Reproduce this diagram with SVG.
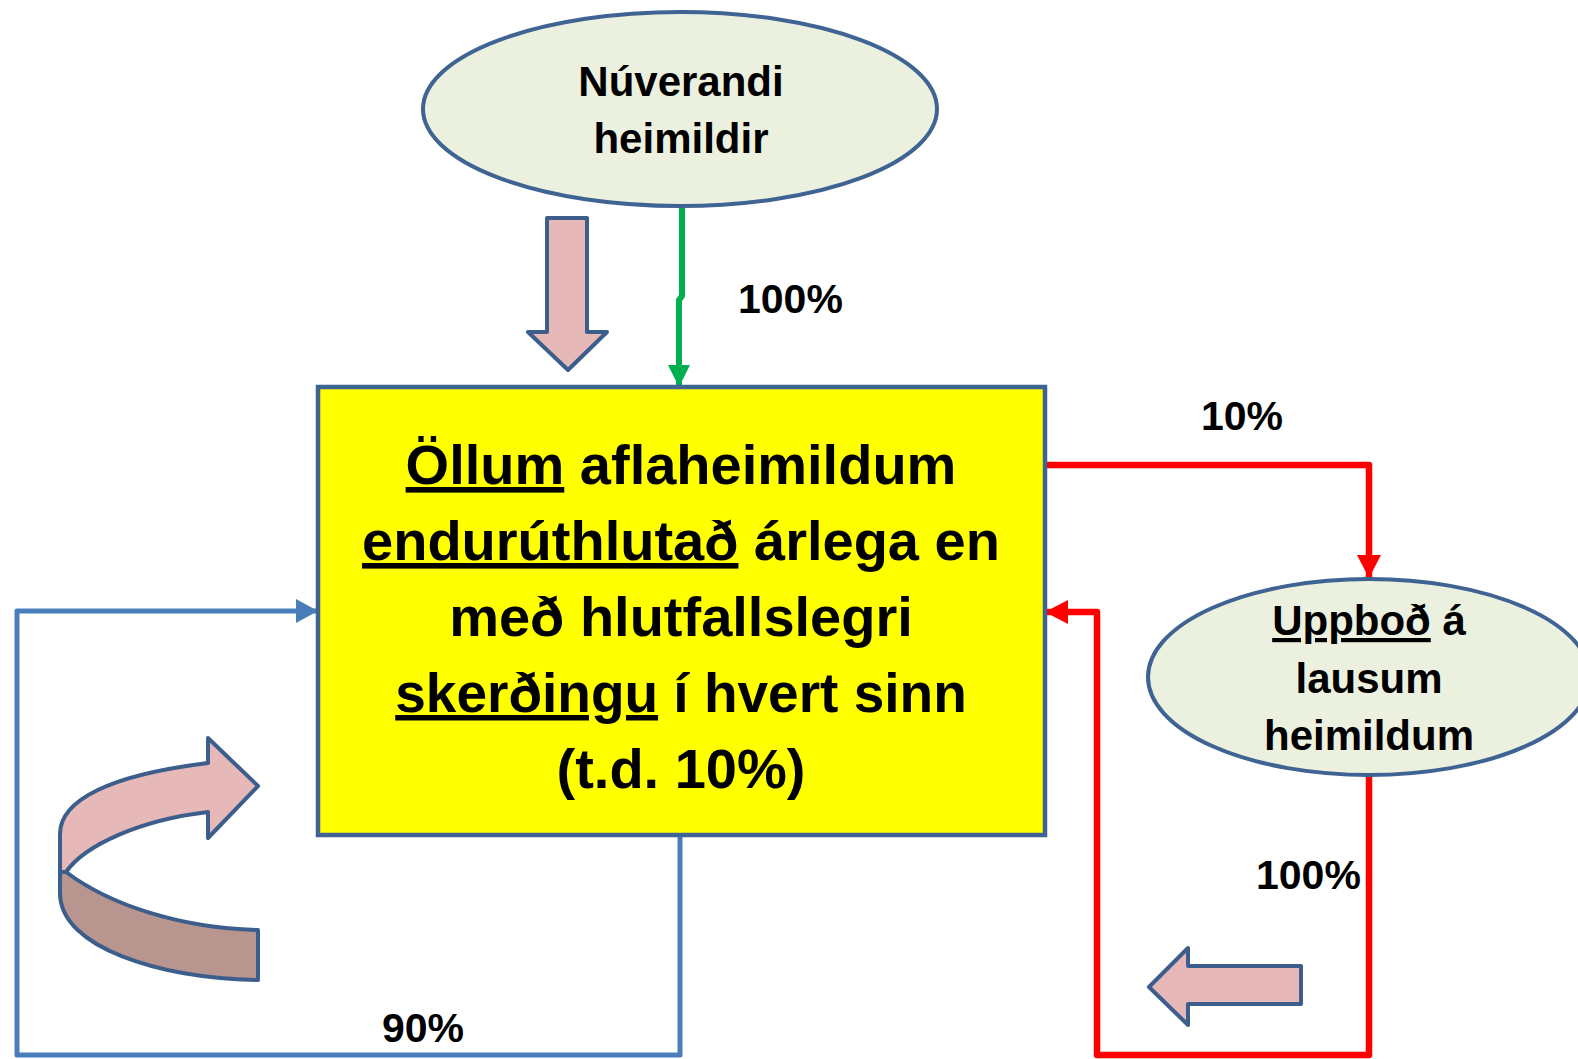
<svg xmlns="http://www.w3.org/2000/svg" width="1578" height="1059" viewBox="0 0 1578 1059">
<defs>
<style>
.t{font-family:"Liberation Sans",Arial,sans-serif;font-weight:bold;fill:#000;text-anchor:middle}
.lbl{font-family:"Liberation Sans",Arial,sans-serif;font-weight:bold;fill:#000;font-size:41px}
.ell{fill:#EBF1DE;stroke:#3F6392;stroke-width:4}
.blk{fill:#E6B9B8;stroke:#3B5E8C;stroke-width:4;stroke-linejoin:round}
.u{text-decoration:underline}
</style>
<marker id="mg" markerUnits="userSpaceOnUse" markerWidth="22" markerHeight="22" refX="22" refY="11" orient="auto"><path d="M0,0 L22,11 L0,22 Z" fill="#00B050"/></marker>
<marker id="mr" markerUnits="userSpaceOnUse" markerWidth="23" markerHeight="24" refX="23" refY="12" orient="auto"><path d="M0,0 L23,12 L0,24 Z" fill="#FF0000"/></marker>
<marker id="mb" markerUnits="userSpaceOnUse" markerWidth="22" markerHeight="24" refX="22" refY="12" orient="auto"><path d="M0,0 L22,12 L0,24 Z" fill="#4A7EBB"/></marker>
</defs>
<rect width="1578" height="1059" fill="#fff"/>
<g id="connectors" fill="none" stroke-linejoin="round">
<path d="M682,207 V296 L679,300 V387" stroke="#00B050" stroke-width="6" marker-end="url(#mg)"/>
<path d="M1045,465 H1369 V578" stroke="#FF0000" stroke-width="6.5" marker-end="url(#mr)"/>
<path d="M1369,776 V1055 H1097 V612 H1045" stroke="#FF0000" stroke-width="6.5" marker-end="url(#mr)"/>
<path d="M680,836 V1055 H17 V611 H318" stroke="#4A7EBB" stroke-width="5" marker-end="url(#mb)"/>
</g>
<g id="labels">
<text class="lbl" x="738" y="313">100%</text>
<text class="lbl" x="1201" y="430">10%</text>
<text class="lbl" x="1256" y="889">100%</text>
<text class="lbl" x="382" y="1042">90%</text>
</g>
<g id="node-nuverandi">
<ellipse class="ell" cx="680" cy="109" rx="257" ry="97"/>
<text class="t" font-size="42" x="681" y="96">Núverandi</text>
<text class="t" font-size="42" x="681" y="153">heimildir</text>
</g>
<g id="node-main">
<rect x="318" y="387" width="727" height="448" fill="#FFFF00" stroke="#3F6392" stroke-width="4.5"/>
<text class="t" font-size="56" x="681" y="484"><tspan class="u">Öllum</tspan> aflaheimildum</text>
<text class="t" font-size="56" x="681" y="560"><tspan class="u">endurúthlutað</tspan> árlega en</text>
<text class="t" font-size="56" x="681" y="636">með hlutfallslegri</text>
<text class="t" font-size="55" x="681" y="712"><tspan class="u">skerðingu</tspan> í hvert sinn</text>
<text class="t" font-size="56" x="681" y="788">(t.d. 10%)</text>
</g>
<g id="node-uppbod">
<ellipse class="ell" cx="1369" cy="677" rx="221" ry="98"/>
<text class="t" font-size="42" x="1369" y="635"><tspan class="u">Uppboð</tspan> á</text>
<text class="t" font-size="42" x="1369" y="693">lausum</text>
<text class="t" font-size="42" x="1369" y="750">heimildum</text>
</g>
<g id="arrow-down">
<path class="blk" d="M547,218 H587 V332 H607 L568,370 L528,332 H547 Z"/>
</g>
<g id="arrow-left">
<path class="blk" d="M1301,966 V1004 H1188 V1025 L1149,987 L1188,948 V966 Z"/>
</g>
<g id="arrow-curved">
<path class="blk" d="M60,872 L60,834 C60,800 110,775 208,763 L208,738 L258,786 L208,838 L208,812 C140,820 85,845 66,872 Z"/>
<path class="blk" style="fill:#B99590" d="M66,872 C110,905 180,928 258,930 L258,980 C160,978 60,948 60,893 L60,872 Z"/>
</g>
</svg>
